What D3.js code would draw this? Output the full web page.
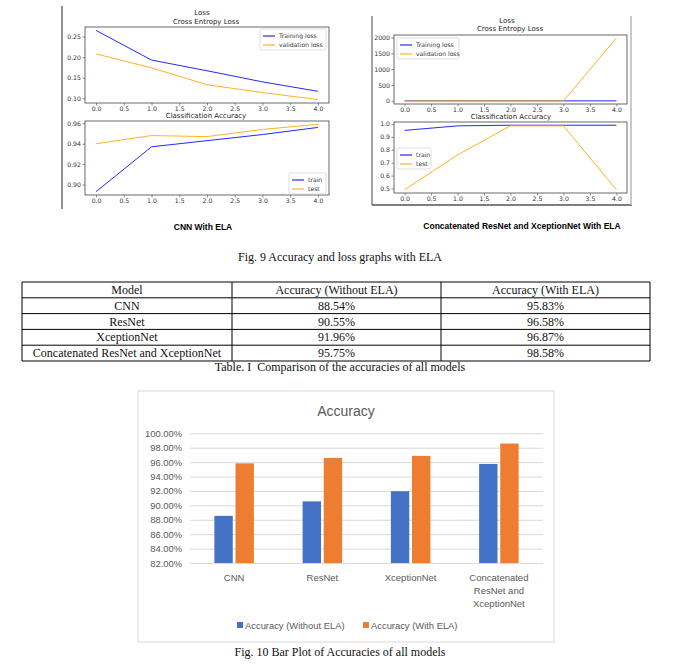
<!DOCTYPE html>
<html>
<head>
<meta charset="utf-8">
<script src="https://cdn.jsdelivr.net/npm/d3@7"></script>
<style>
  body { margin: 0; background: #fff; }
  svg { display: block; }
  text { white-space: pre; }
</style>
</head>
<body>
<svg id="fig"></svg>
<script>
// training curves
const epochs = [0, 1, 2, 3, 4];
const cnnTrainLoss = [0.265, 0.193, 0.167, 0.140, 0.117];
const cnnValLoss = [0.208, 0.174, 0.133, 0.114, 0.097];
const cnnTrainAcc = [0.893, 0.937, 0.943, 0.949, 0.956];
const cnnTestAcc = [0.940, 0.948, 0.947, 0.954, 0.959];
const catTrainLoss = [0.35, 0.08, 0.04, 0.03, 0.05];
const catValLoss = [0.9, 0.6, 0.05, 0.07, 1980];
const catTrainAcc = [0.95, 0.985, 0.99, 0.99, 0.99];
const catTestAcc = [0.49, 0.76, 0.985, 0.985, 0.49];

const epochTicks = [0, 0.5, 1, 1.5, 2, 2.5, 3, 3.5, 4];
const cnnLossTicks = [0.10, 0.15, 0.20, 0.25];
const cnnAccTicks = [0.90, 0.92, 0.94, 0.96];
const catLossTicks = [0, 500, 1000, 1500, 2000];
const catAccTicks = [0.5, 0.6, 0.7, 0.8, 0.9, 1.0];

// table + bar chart
const models = ["CNN", "ResNet", "XceptionNet", "Concatenated ResNet and XceptionNet"];
const accWithout = [88.54, 90.55, 91.96, 95.75];
const accWith = [95.83, 96.58, 96.87, 98.58];
const seriesNames = ["Accuracy (Without ELA)", "Accuracy (With ELA)"];
const tableHeader = ["Model", "Accuracy (Without ELA)", "Accuracy (With ELA)"];
const accTicks = [82, 84, 86, 88, 90, 92, 94, 96, 98, 100];

const width = 680, height = 671;
const svg = d3.select("#fig").attr("width", width).attr("height", height);
svg.append("rect").attr("width", width).attr("height", height).attr("fill", "#fff");

const mplFont = "DejaVu Sans, sans-serif";
const serif = "Liberation Serif, Times New Roman, serif";
const sans = "Liberation Sans, Arial, sans-serif";

// one matplotlib style subplot
function subplot(box, series, yTicks, yFmt, legend) {
  let all = series.flatMap(s => s.values);
  let [lo, hi] = d3.extent(all);
  let pad = (hi - lo) * 0.05;
  var x = d3.scaleLinear().domain([-0.2, 4.2]).range([box.x0, box.x1]);
  var y = d3.scaleLinear().domain([lo - pad, hi + pad]).range([box.y1, box.y0]);

  let g = svg.append("g");

  var line = d3.line()
    .x((d, i) => x(epochs[i]))
    .y(d => y(d));

  series.forEach(s => {
    g.append("path")
      .datum(s.values)
      .attr("fill", "none")
      .attr("stroke", s.color)
      .attr("stroke-opacity", 0.85)
      .attr("stroke-width", 1)
      .attr("d", line);
  });

  let xAxis = d3.axisBottom(x).tickValues(epochTicks).tickFormat(d3.format(".1f")).tickSize(2.5).tickPadding(1.5);
  let yAxis = d3.axisLeft(y).tickValues(yTicks).tickFormat(d3.format(yFmt)).tickSize(2.5).tickPadding(1.5);

  g.append("g").call(xAxis).attr("transform", `translate(0, ${box.y1})`);
  g.append("g").call(yAxis).attr("transform", `translate(${box.x0}, 0)`);
  g.selectAll(".tick text").attr("font-family", mplFont).attr("font-size", 6.2).attr("fill", "#333");
  g.selectAll(".tick line").attr("stroke", "#444").attr("stroke-width", 0.6);
  g.selectAll(".domain").remove();

  g.append("rect")
    .attr("x", box.x0).attr("y", box.y0)
    .attr("width", box.x1 - box.x0).attr("height", box.y1 - box.y0)
    .attr("fill", "none").attr("stroke", "#444").attr("stroke-width", 0.8);

  // legend
  let lg = g.append("g").attr("transform", `translate(${legend.x}, ${legend.y})`);
  lg.append("rect")
    .attr("width", legend.w).attr("height", series.length * 9 + 3)
    .attr("rx", 1.5)
    .attr("fill", "#fff").attr("fill-opacity", 0.85)
    .attr("stroke", "#d0d0d0").attr("stroke-width", 0.7);
  series.forEach((s, i) => {
    let ly = 7 + i * 9;
    lg.append("line").attr("x1", 3).attr("x2", 15).attr("y1", ly).attr("y2", ly)
      .attr("stroke", s.color).attr("stroke-opacity", 0.85).attr("stroke-width", 1.2);
    lg.append("text").attr("x", 19).attr("y", ly + 2)
      .attr("font-family", mplFont).attr("font-size", 6.1).attr("fill", "#333")
      .text(s.name);
  });
}

function mplTitle(text, x, y) {
  svg.append("text").attr("x", x).attr("y", y)
    .attr("text-anchor", "middle")
    .attr("font-family", mplFont).attr("font-size", 7).attr("fill", "#222")
    .text(text);
}

// ---------- left panel: CNN with ELA ----------
svg.append("line").attr("x1", 62).attr("x2", 62).attr("y1", 6).attr("y2", 209)
  .attr("stroke", "#555").attr("stroke-width", 1.3);
mplTitle("Loss", 202, 15);
mplTitle("Cross Entropy Loss", 206, 24);
subplot({x0: 85, x1: 329, y0: 27, y1: 103},
  [{name: "Training loss", values: cnnTrainLoss, color: "blue"},
   {name: "validation loss", values: cnnValLoss, color: "orange"}],
  cnnLossTicks, ".2f", {x: 260, y: 29, w: 66});
mplTitle("Classification Accuracy", 206, 118);
subplot({x0: 85, x1: 329, y0: 121, y1: 195},
  [{name: "train", values: cnnTrainAcc, color: "blue"},
   {name: "test", values: cnnTestAcc, color: "orange"}],
  cnnAccTicks, ".2f", {x: 289, y: 173, w: 37});
svg.append("text").attr("x", 203).attr("y", 230).attr("text-anchor", "middle")
  .attr("font-family", sans).attr("font-weight", "bold").attr("font-size", 8.5)
  .text("CNN With ELA");

// ---------- right panel: concatenated model ----------
let frame = svg.append("g").attr("fill", "none");
frame.append("line").attr("x1", 372).attr("x2", 372).attr("y1", 16).attr("y2", 205)
  .attr("stroke", "#666").attr("stroke-width", 1.2);
frame.append("line").attr("x1", 372).attr("x2", 632).attr("y1", 205).attr("y2", 205)
  .attr("stroke", "#555").attr("stroke-width", 1.4);
frame.append("line").attr("x1", 631).attr("x2", 631).attr("y1", 16).attr("y2", 205)
  .attr("stroke", "#bbb").attr("stroke-width", 1.6);
mplTitle("Loss", 507, 23);
mplTitle("Cross Entropy Loss", 510, 31);
subplot({x0: 394, x1: 627, y0: 35, y1: 104},
  [{name: "Training loss", values: catTrainLoss, color: "blue"},
   {name: "validation loss", values: catValLoss, color: "orange"}],
  catLossTicks, "d", {x: 397, y: 38, w: 62});
mplTitle("Classification Accuracy", 511, 119);
subplot({x0: 394, x1: 627, y0: 122, y1: 193},
  [{name: "train", values: catTrainAcc, color: "blue"},
   {name: "test", values: catTestAcc, color: "orange"}],
  catAccTicks, ".1f", {x: 397, y: 148, w: 34});
svg.append("text").attr("x", 522).attr("y", 229).attr("text-anchor", "middle")
  .attr("font-family", sans).attr("font-weight", "bold").attr("font-size", 8.5)
  .text("Concatenated ResNet and XceptionNet With ELA");

// ---------- captions ----------
function caption(text, y) {
  svg.append("text").attr("x", 340).attr("y", y).attr("text-anchor", "middle")
    .attr("font-family", serif).attr("font-size", 12).attr("fill", "#111")
    .text(text);
}
caption("Fig. 9 Accuracy and loss graphs with ELA", 261);

// ---------- table ----------
let colEdges = [22, 232, 441, 650];
let rowTop = 282, rowH = 15.8;
let rows = [tableHeader].concat(models.map((m, i) =>
  [m, accWithout[i].toFixed(2) + "%", accWith[i].toFixed(2) + "%"]));
let tg = svg.append("g");
rows.forEach((r, ri) => {
  r.forEach((cell, ci) => {
    tg.append("text")
      .attr("x", (colEdges[ci] + colEdges[ci + 1]) / 2)
      .attr("y", rowTop + ri * rowH + rowH / 2 + 4)
      .attr("text-anchor", "middle")
      .attr("font-family", serif).attr("font-size", 12).attr("fill", "#111")
      .text(cell);
  });
});
d3.range(rows.length + 1).forEach(i => {
  tg.append("line").attr("x1", colEdges[0]).attr("x2", colEdges[3])
    .attr("y1", rowTop + i * rowH).attr("y2", rowTop + i * rowH)
    .attr("stroke", "#000").attr("stroke-width", 1);
});
colEdges.forEach(cx => {
  tg.append("line").attr("x1", cx).attr("x2", cx)
    .attr("y1", rowTop).attr("y2", rowTop + rows.length * rowH)
    .attr("stroke", "#000").attr("stroke-width", 1);
});
caption("Table. I  Comparison of the accuracies of all models", 371);

// ---------- bar chart ----------
let bar = svg.append("g");
bar.append("rect").attr("x", 138).attr("y", 391).attr("width", 416).attr("height", 251)
  .attr("fill", "#fff").attr("stroke", "#d9d9d9").attr("stroke-width", 1);
bar.append("text").attr("x", 346).attr("y", 416).attr("text-anchor", "middle")
  .attr("font-family", sans).attr("font-size", 14).attr("fill", "#595959")
  .text("Accuracy");

var bx = d3.scaleBand().domain(models).range([190, 543]).paddingInner(0.49).paddingOuter(0.245);
var bsub = d3.scaleBand().domain([0, 1]).range([0, bx.bandwidth()]).padding(0.13);
var by = d3.scaleLinear().domain([82, 100]).range([563, 433.3]);

let gy = bar.append("g").attr("transform", "translate(190, 0)")
  .call(d3.axisLeft(by).tickValues(accTicks).tickFormat(d => d.toFixed(2) + "%").tickSize(-353).tickPadding(8));
gy.select(".domain").remove();
gy.selectAll(".tick line").attr("stroke", "#d9d9d9").attr("stroke-width", 1);
gy.selectAll(".tick text").attr("font-family", sans).attr("font-size", 9.4).attr("fill", "#595959");

let colors = ["#4472C4", "#ED7D31"];
[accWithout, accWith].forEach((vals, si) => {
  bar.selectAll(null).data(vals).join("rect")
    .attr("x", (d, i) => bx(models[i]) + bsub(si))
    .attr("y", d => by(d))
    .attr("width", bsub.bandwidth())
    .attr("height", d => by(82) - by(d))
    .attr("fill", colors[si]);
});

// category labels, wrapped to the band
let lab = bar.selectAll(null).data(models).join("text")
  .attr("x", d => bx(d) + bx.bandwidth() / 2)
  .attr("y", 581)
  .attr("text-anchor", "middle")
  .attr("font-family", sans).attr("font-size", 9.5).attr("fill", "#595959");
lab.each(function(d) {
  let t = d3.select(this);
  let words = d.split(" ");
  let lines = [], cur = [];
  let probe = t.append("tspan");
  words.forEach(w => {
    probe.text(cur.concat(w).join(" "));
    if (cur.length && probe.node().getComputedTextLength() > 75) {
      lines.push(cur.join(" "));
      cur = [w];
    } else {
      cur.push(w);
    }
  });
  lines.push(cur.join(" "));
  probe.remove();
  lines.forEach((l, i) => {
    t.append("tspan").attr("x", bx(d) + bx.bandwidth() / 2).attr("dy", i ? 12.8 : 0).text(l);
  });
});

// legend
let legX = [237, 363];
seriesNames.forEach((n, i) => {
  bar.append("rect").attr("x", legX[i]).attr("y", 622).attr("width", 6).attr("height", 6)
    .attr("fill", colors[i]);
  bar.append("text").attr("x", legX[i] + 8).attr("y", 628.5)
    .attr("font-family", sans).attr("font-size", 9.4).attr("fill", "#595959")
    .text(n);
});

caption("Fig. 10 Bar Plot of Accuracies of all models", 656);
</script>
</body>
</html>
